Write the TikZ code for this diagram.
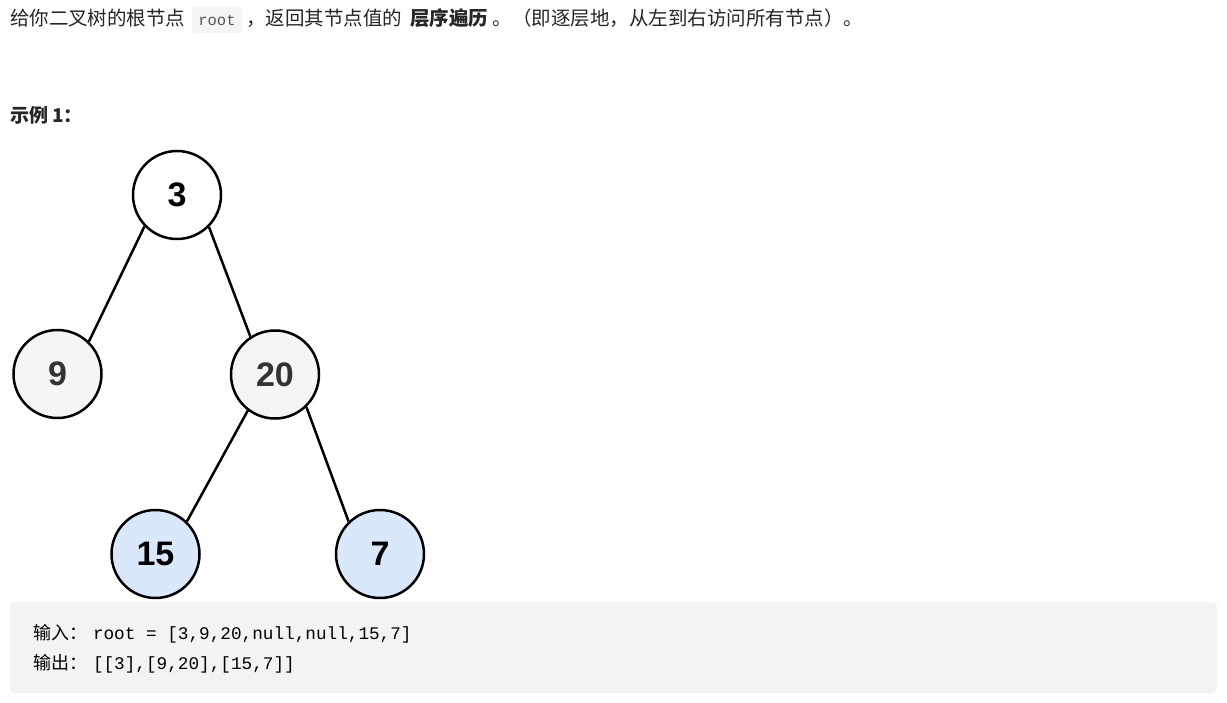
\documentclass[tikz,border=0pt]{standalone}
\usepackage{fontspec}
\setmainfont{Liberation Sans}
\setmonofont{Liberation Mono}
\newfontfamily\cjk{Noto Sans CJK SC}
\definecolor{bodytext}{HTML}{262626}
\definecolor{codebg}{HTML}{F2F3F5}
\definecolor{inlinebg}{HTML}{F3F4F5}
\definecolor{inlinetext}{HTML}{555555}
\definecolor{graynode}{HTML}{F5F5F5}
\definecolor{bluenode}{HTML}{DAE8FC}
\definecolor{darknum}{HTML}{333333}
\tikzset{
  txt/.style={inner sep=0pt, outer sep=0pt, anchor=base west, text=bodytext,
    font=\fontsize{19.5}{23}\selectfont\cjk},
  codetxt/.style={inner sep=0pt, outer sep=0pt, anchor=base west, text=black},
  tnode/.style={circle, draw=black, line width=2.5pt, minimum size=88pt, inner sep=0pt,
    font=\fontsize{34}{40}\selectfont\bfseries},
  wnode/.style={tnode, fill=white, text=black},
  gnode/.style={tnode, fill=graynode, text=darknum},
  bnode/.style={tnode, fill=bluenode, text=black},
  edge/.style={line width=2.5pt, draw=black}
}
\begin{document}
\begin{tikzpicture}[x=1pt, y=-1pt]
\useasboundingbox (0,0) rectangle (1227,703);
\fill[white] (0,0) rectangle (1227,703);

% heading line
\node[txt] (t1) at (10,26) {给你二叉树的根节点};
\node[fill=inlinebg, rounded corners=3pt, minimum width=50pt, minimum height=26pt,
      inner sep=0pt, text=inlinetext, font=\fontsize{15.5}{18}\selectfont\ttfamily] (root) at (217,20) {root};
\node[txt] (t2) at (246,26) {，返回其节点值的};
\node[txt, font=\fontsize{19.5}{23}\selectfont\cjk\bfseries] (t3) at (410,26) {层序遍历};
\node[txt] (t4) at (492,26) {。};
\node[txt] (t5) at (512,26) {（即逐层地，从左到右访问所有节点）。};

% example label
\node[txt, font=\fontsize{19}{23}\selectfont\cjk\bfseries] (ex) at (10,123) {示例 1：};

% tree
\node[wnode] (n3) at (177,195) {3};
\node[gnode] (n9) at (57.5,374) {9};
\node[gnode] (n20) at (275,374.5) {20};
\node[bnode] (n15) at (155.5,554) {15};
\node[bnode] (n7) at (380,554) {7};

\draw[edge] (n3.224) -- (n9.46);
\draw[edge] (n3.315) -- (n20.123);
\draw[edge] (n20.233) -- (n15.46);
\draw[edge] (n20.314) -- (n7.134);

% code block
\fill[codebg, rounded corners=5pt] (10,602) rectangle (1217,693);
\node[codetxt, font=\fontsize{18}{22}\selectfont\cjk] (in1) at (33,639) {输入：};
\node[codetxt, font=\fontsize{17.7}{22}\selectfont\ttfamily] (in2) at (93,639) {root = [3,9,20,null,null,15,7]};
\node[codetxt, font=\fontsize{18}{22}\selectfont\cjk] (out1) at (33,669) {输出：};
\node[codetxt, font=\fontsize{17.7}{22}\selectfont\ttfamily] (out2) at (93,669) {[[3],[9,20],[15,7]]};
\end{tikzpicture}
\end{document}
